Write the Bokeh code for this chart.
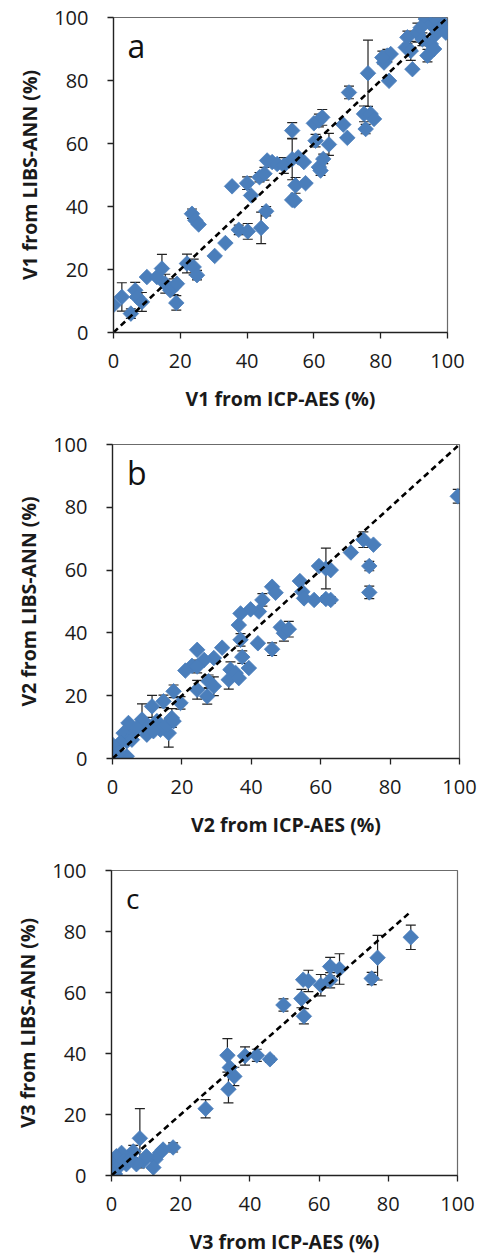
from bokeh.plotting import figure
from bokeh.models import Range1d, ColumnDataSource, Whisker, TeeHead, Label, FixedTicker
from bokeh.embed import file_html
from bokeh.resources import INLINE

# ---- Panel a: V1 ----
a_x = [0, 2.5, 5.2, 6.5, 7, 8.5, 10, 13, 14.5, 15.5, 17, 18, 19, 18.8, 22, 24, 25, 23.5, 24.5, 25.5,
       30.3, 33.5, 35.5, 37.5, 40, 40.2, 41.2, 44.2, 45.7, 43.7, 45.2, 46, 47.5, 49, 51, 53.5, 53.5, 54.2,
       54.5, 53.5, 55.3, 57, 57.5, 60, 61.5, 62.5, 60.5, 61.5, 62, 62.8, 64.5, 68.8, 70, 70.5, 75.5, 75,
       76.2, 77, 78, 82.5, 81, 82, 83, 80.5, 88, 87.5, 89.5, 89, 91, 94, 95, 96, 93.5, 95, 97, 98, 99,
       99.5, 96.5, 92.5, 92, 100]
a_y = [8.7, 11.3, 6, 13.4, 11.3, 9.7, 17.6, 17.6, 20.3, 15.5, 13.4, 14.5, 15.5, 9.4, 21.9, 20.8, 18.2,
       37.7, 35.6, 34.3, 24.3, 28.4, 46.4, 32.6, 47.4, 32.1, 43.5, 33.2, 38.5, 49.3, 50.4, 54.6, 54.1,
       53.5, 53, 64.1, 42.1, 41.9, 46.7, 55, 55.6, 54.1, 47.4, 66.4, 67.3, 68.3, 60.9, 52.5, 51.4, 55.1,
       59.7, 66, 61.8, 76.2, 64.6, 69.4, 82.3, 69.4, 67.8, 79.9, 85.7, 87.9, 88.4, 87.3, 93.7, 90.5,
       83.6, 89.4, 95.2, 87.9, 91.6, 90, 99.5, 97.9, 98.9, 96.8, 97.9, 95.2, 94.7, 93.1, 96.8, 95.8]
a_err = [0, 4.5, 1.5, 2.5, 0, 3, 0, 0, 4.5, 3, 0, 2.5, 0, 2.3, 3, 2.5, 1.5, 1.5, 0, 0,
         0, 0, 0, 1.5, 2, 2.5, 0, 5, 1.5, 1.5, 2, 0, 0, 0, 2.5, 2.5, 0, 0,
         2.5, 6.5, 0, 0, 0, 0, 2, 2.5, 2, 0, 1.5, 1.5, 3.5, 0, 0, 2, 1.5, 2.5,
         10.5, 0, 0, 0, 0, 2, 0, 2, 2, 0, 0, 3, 3, 2, 0, 0, 0, 0, 0, 0, 0,
         0, 0, 2, 0, 0]

# ---- Panel b: V2 ----
b_x = [99.5, 72.3, 75.2, 74, 74, 68.7, 59.5, 61.5, 62.9, 58.1, 61.5, 62.9, 54, 54.7, 55.2, 46, 47, 43.2,
       42.2, 39.8, 36.9, 36.4, 36.9, 37.4, 39.3, 41.9, 46, 48.5, 49.4, 50.8, 31.6, 29.2, 26.4, 24.4, 22.9,
       21, 24.4, 24.4, 27.3, 27.7, 29.2, 34, 33.5, 35.5, 36.4, 19.6, 17.6, 17.1, 16.2, 14.7, 11.4, 8.5,
       10.4, 12.8, 13.8, 15.7, 9.9, 6.1, 4.6, 3.2, 4.1, 5.6, 7, 2.2, 0.8, 0.3, 0.8, 4.1, 0, 1.7, 17.6, 11.8]
b_y = [83.5, 69.7, 68.1, 61.3, 52.9, 65.6, 61.3, 60.5, 60, 50.5, 50.8, 50.5, 56.5, 53.1, 51, 54.7, 52.8,
       50.5, 46.8, 47.5, 46.2, 42.5, 37.8, 32.3, 28.8, 36.7, 34.8, 41.8, 39.9, 41.2, 35.3, 32, 31.4, 34.6,
       29.5, 28, 29.3, 21.9, 19.8, 24.6, 23, 28.3, 25.1, 27.2, 25.6, 17.7, 21.4, 12.9, 8.1, 18.2, 16.6,
       12.4, 10.3, 11.9, 9.2, 10.8, 7.6, 8.7, 11.3, 8.1, 5.5, 6, 9.7, 5, 3.4, 1.8, 0.7, 0.7, 4.4, 1.8,
       11.9, 8.7]
b_err = [2.2, 2.5, 0, 1.5, 2, 0, 0, 6.5, 0, 0, 1, 1, 0, 0, 0, 0, 0, 2,
         0, 0, 0, 0, 2, 2, 0, 0, 2, 0, 2.5, 2.5, 0, 0, 0, 0, 0,
         0, 2, 3, 2.5, 2, 3, 2.5, 3, 0, 0, 2, 2, 3, 4.5, 2, 3.5, 5,
         0, 0, 0, 0, 0, 0, 0, 0, 0, 0, 0, 0, 0, 0, 0, 0, 0, 0, 0, 0]

# ---- Panel c: V3 ----
c_x = [86.5, 76.9, 75.2, 65.9, 63.2, 63.2, 60.5, 55.4, 56.9, 54.9, 55.6, 49.7, 45.8, 42, 38.6, 33.5,
       34.2, 35.5, 33.8, 27.2, 17.8, 14.9, 14, 12.7, 12.1, 8.2, 6.3, 9.2, 10.1, 7.2, 4.3, 2.9, 1.4, 0.5,
       0, 1.9, 3.4, 5.3, 1]
c_y = [78.1, 71.4, 64.6, 67.7, 68.5, 64, 62.4, 64.2, 63.8, 58, 52.2, 55.9, 38.1, 39.4, 39.2, 39.4,
       35.4, 32.5, 28.3, 21.9, 9.2, 8.5, 7.4, 5.3, 2.6, 12.2, 7.9, 4.8, 6.3, 3.7, 3.7, 7.4, 6.3, 3.7,
       1.6, 2.6, 4.8, 5.3, 0.5]
c_err = [4, 7.3, 2, 5, 3, 2.5, 3.5, 0, 3.5, 3, 2.5, 2, 1, 2, 3, 5.5,
         0, 3, 4.5, 3, 1.5, 0, 0, 0, 0, 9.7, 2, 0, 0, 0, 0, 0, 0, 0,
         0, 0, 0, 0, 0]

ticks = [0, 20, 40, 60, 80, 100]
BLUE = "#4a7ebb"
FONT = "Open Sans"


def panel(xs, ys, errs, letter, xlabel, ylabel, height, top, bottom, left, right, letter_size):
    p = figure(width=483, height=height, output_backend="svg", toolbar_location=None,
               x_range=Range1d(0, 100), y_range=Range1d(0, 100),
               min_border_top=top, min_border_bottom=bottom,
               min_border_left=left, min_border_right=right)
    p.grid.visible = False
    p.outline_line_color = "#6b6b6b"
    p.outline_line_width = 1.2
    for ax in (p.xaxis[0], p.yaxis[0]):
        ax.ticker = FixedTicker(ticks=ticks)
        ax.minor_tick_line_color = None
        ax.major_tick_out = 6
        ax.major_tick_in = 0
        ax.axis_line_color = "#222222"
        ax.axis_line_width = 1.3
        ax.major_tick_line_color = "#222222"
        ax.major_tick_line_width = 1.3
        ax.major_label_text_font = FONT
        ax.major_label_text_font_size = "20px"
        ax.major_label_text_color = "#1a1a1a"
        ax.axis_label_text_font = FONT
        ax.axis_label_text_font_size = "19.5px"
        ax.axis_label_text_font_style = "bold"
        ax.axis_label_text_color = "#1a1a1a"
    p.xaxis.axis_label = xlabel
    p.yaxis.axis_label = ylabel
    p.xaxis.major_label_standoff = 15
    p.yaxis.major_label_standoff = 19
    p.xaxis.axis_label_standoff = 14
    p.yaxis.axis_label_standoff = 8

    ex = [x for x, e in zip(xs, errs) if e > 0]
    eu = [y + e for y, e in zip(ys, errs) if e > 0]
    el = [y - e for y, e in zip(ys, errs) if e > 0]
    wsrc = ColumnDataSource(dict(base=ex, upper=eu, lower=el))
    w = Whisker(source=wsrc, base="base", upper="upper", lower="lower", dimension="height",
                line_color="#222222", line_width=1.2,
                upper_head=TeeHead(size=10, line_color="#222222", line_width=1.2),
                lower_head=TeeHead(size=10, line_color="#222222", line_width=1.2))
    p.add_layout(w)

    p.scatter(xs, ys, marker="square", angle=0.785398, size=11,
              fill_color=BLUE, line_color=BLUE, line_width=0.8)

    xmax = max(xs)
    p.line([0, xmax], [0, xmax], line_color="black", line_width=2.6, line_dash="6 4")

    p.add_layout(Label(x=4.2, y=91, text=letter, text_font=FONT,
                       text_font_size=letter_size, text_baseline="middle", text_color="#111111"))
    return p


pa = panel(a_x, a_y, a_err, "a", "V1 from ICP-AES (%)", "V1 from LIBS-ANN (%)",
           420, 17, 88, 113, 36, "32px")
pb = panel(b_x, b_y, b_err, "b", "V2 from ICP-AES (%)", "V2 from LIBS-ANN (%)",
           420, 24, 81, 112, 24, "32px")
pc = panel(c_x, c_y, c_err, "c", "V3 from ICP-AES (%)", "V3 from LIBS-ANN (%)",
           417, 30, 72, 111, 26, "28px")

open("out.html", "w").write(file_html([pa, pb, pc], INLINE))
